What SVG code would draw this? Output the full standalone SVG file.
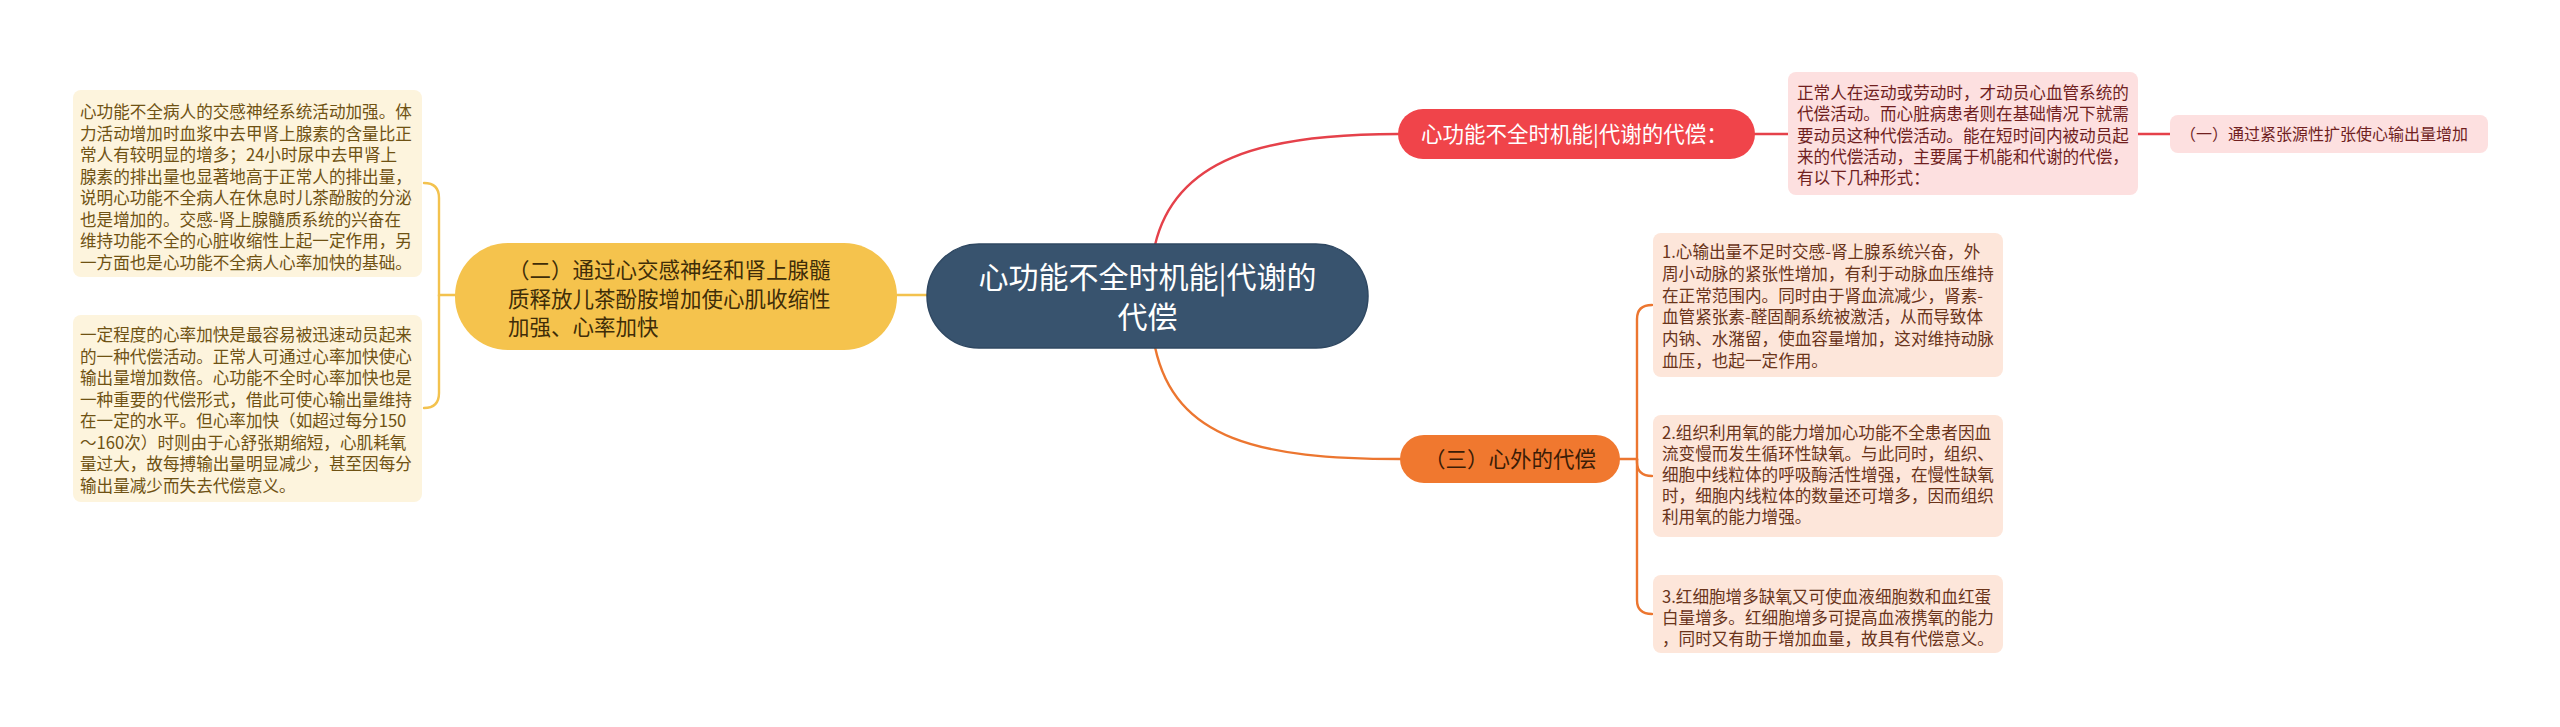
<svg xmlns="http://www.w3.org/2000/svg" width="2560" height="727" viewBox="0 0 2560 727">
<style>
text{font-family:"Noto Sans CJK SC","Noto Sans",sans-serif}
.body{font-size:16.6px}
.cream{fill:#fdf4dd}
.creamt{fill:#6f5213}
.pink{fill:#fde0e0}
.pinkt{fill:#701f1f}
.peach{fill:#fde6da}
.peacht{fill:#6a341a}
.lk{fill:none;stroke-width:2.4;stroke-linecap:round}
.ly{stroke:#f3c24e}
.lr{stroke:#e5414a}
.lo{stroke:#ec7630}
</style>
<rect width="2560" height="727" fill="#ffffff"/>
<g id="connectors">
<path class="lk ly" d="M897 295 H927"/>
<path class="lk ly" d="M455 295 H439 V198 Q439 183 424 183"/>
<path class="lk ly" d="M439 295 V393 Q439 408 424 408"/>
<path class="lk lr" d="M1155 245 C1175 160 1260 134 1398 134"/>
<path class="lk lr" d="M1755 134 H1788"/>
<path class="lk lr" d="M2138 134 H2170"/>
<path class="lk lo" d="M1155 347 C1175 440 1260 459 1400 459"/>
<path class="lk lo" d="M1620 459 H1637 V319 Q1637 305 1652 305"/>
<path class="lk lo" d="M1637 459 V462 Q1637 476 1652 476"/>
<path class="lk lo" d="M1637 459 V600 Q1637 614 1652 614"/>
</g>
<g id="root">
<rect x="927" y="244" width="441" height="104" rx="52" fill="#38536e" stroke="#2f4862" stroke-width="1.5"/>
<text x="1147.5" y="288" font-size="30" fill="#ffffff" text-anchor="middle">心功能不全时机能|代谢的</text>
<text x="1147.5" y="328" font-size="30" fill="#ffffff" text-anchor="middle">代偿</text>
</g>
<g id="node-sympathetic">
<rect x="455" y="243" width="442" height="107" rx="53" fill="#f5c34d"/>
<text font-size="21.5" fill="#3f2d08"><tspan x="508" y="278">（二）通过心交感神经和肾上腺髓</tspan><tspan x="508" y="307">质释放儿茶酚胺增加使心肌收缩性</tspan><tspan x="508" y="335">加强、心率加快</tspan></text>
</g>
<g id="note-sympathetic-1">
<rect class="cream" x="73" y="90" width="349" height="187" rx="8"/>
<text class="body creamt"><tspan x="80" y="118">心功能不全病人的交感神经系统活动加强。体</tspan><tspan x="80" y="139.5">力活动增加时血浆中去甲肾上腺素的含量比正</tspan><tspan x="80" y="161">常人有较明显的增多；24小时尿中去甲肾上</tspan><tspan x="80" y="182.5">腺素的排出量也显著地高于正常人的排出量，</tspan><tspan x="80" y="204">说明心功能不全病人在休息时儿茶酚胺的分泌</tspan><tspan x="80" y="225.5">也是增加的。交感-肾上腺髓质系统的兴奋在</tspan><tspan x="80" y="247">维持功能不全的心脏收缩性上起一定作用，另</tspan><tspan x="80" y="268.5">一方面也是心功能不全病人心率加快的基础。</tspan></text>
</g>
<g id="note-sympathetic-2">
<rect class="cream" x="73" y="315" width="349" height="187" rx="8"/>
<text class="body creamt"><tspan x="80" y="341">一定程度的心率加快是最容易被迅速动员起来</tspan><tspan x="80" y="362.5">的一种代偿活动。正常人可通过心率加快使心</tspan><tspan x="80" y="384">输出量增加数倍。心功能不全时心率加快也是</tspan><tspan x="80" y="405.5">一种重要的代偿形式，借此可使心输出量维持</tspan><tspan x="80" y="427">在一定的水平。但心率加快（如超过每分150</tspan><tspan x="80" y="448.5">～160次）时则由于心舒张期缩短，心肌耗氧</tspan><tspan x="80" y="470">量过大，故每搏输出量明显减少，甚至因每分</tspan><tspan x="80" y="491.5">输出量减少而失去代偿意义。</tspan></text>
</g>
<g id="node-functional">
<rect x="1398" y="109" width="357" height="50" rx="25" fill="#f0444a"/>
<text x="1421" y="141.5" font-size="21.5" fill="#ffffff">心功能不全时机能|代谢的代偿：</text>
</g>
<g id="note-functional">
<rect class="pink" x="1788" y="72" width="350" height="123" rx="8"/>
<text class="body pinkt"><tspan x="1797" y="99">正常人在运动或劳动时，才动员心血管系统的</tspan><tspan x="1797" y="120.3">代偿活动。而心脏病患者则在基础情况下就需</tspan><tspan x="1797" y="141.6">要动员这种代偿活动。能在短时间内被动员起</tspan><tspan x="1797" y="162.9">来的代偿活动，主要属于机能和代谢的代偿，</tspan><tspan x="1797" y="184.2">有以下几种形式：</tspan></text>
</g>
<g id="node-tonogenic">
<rect class="pink" x="2170" y="115" width="318" height="38" rx="8"/>
<text x="2180" y="140" font-size="16" class="pinkt">（一）通过紧张源性扩张使心输出量增加</text>
</g>
<g id="node-extracardiac">
<rect x="1400" y="435" width="220" height="48" rx="24" fill="#f0782f"/>
<text x="1510" y="467" font-size="21.5" fill="#3b1c06" text-anchor="middle">（三）心外的代偿</text>
</g>
<g id="note-extracardiac-1">
<rect class="peach" x="1653" y="233" width="350" height="144" rx="8"/>
<text class="body peacht"><tspan x="1662" y="258">1.心输出量不足时交感-肾上腺系统兴奋，外</tspan><tspan x="1662" y="279.8">周小动脉的紧张性增加，有利于动脉血压维持</tspan><tspan x="1662" y="301.6">在正常范围内。同时由于肾血流减少，肾素-</tspan><tspan x="1662" y="323.4">血管紧张素-醛固酮系统被激活，从而导致体</tspan><tspan x="1662" y="345.2">内钠、水潴留，使血容量增加，这对维持动脉</tspan><tspan x="1662" y="367">血压，也起一定作用。</tspan></text>
</g>
<g id="note-extracardiac-2">
<rect class="peach" x="1653" y="415" width="350" height="122" rx="8"/>
<text class="body peacht"><tspan x="1662" y="439">2.组织利用氧的能力增加心功能不全患者因血</tspan><tspan x="1662" y="460">流变慢而发生循环性缺氧。与此同时，组织、</tspan><tspan x="1662" y="481">细胞中线粒体的呼吸酶活性增强，在慢性缺氧</tspan><tspan x="1662" y="502">时，细胞内线粒体的数量还可增多，因而组织</tspan><tspan x="1662" y="523">利用氧的能力增强。</tspan></text>
</g>
<g id="note-extracardiac-3">
<rect class="peach" x="1653" y="575" width="350" height="78" rx="8"/>
<text class="body peacht"><tspan x="1662" y="603">3.红细胞增多缺氧又可使血液细胞数和血红蛋</tspan><tspan x="1662" y="624">白量增多。红细胞增多可提高血液携氧的能力</tspan><tspan x="1662" y="645">，同时又有助于增加血量，故具有代偿意义。</tspan></text>
</g>
</svg>
